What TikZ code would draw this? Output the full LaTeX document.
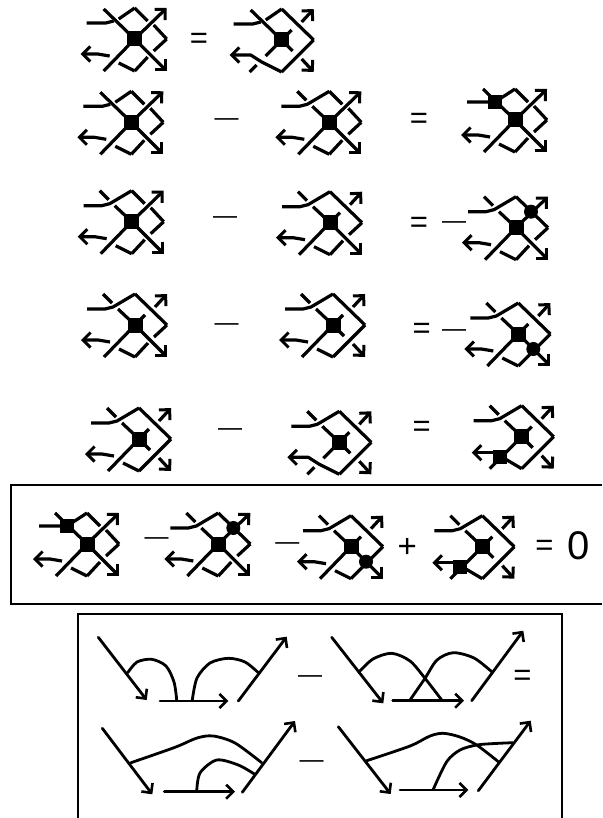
\documentclass[tikz,border=0pt]{standalone}
\usepackage{fontspec}
\setmainfont{Liberation Sans}
\usetikzlibrary{arrows.meta}

\begin{document}
\begin{tikzpicture}[
    x=1pt, y=-1pt,
    strand/.style={line width=3.2pt, line join=round},
    arrow/.style={strand, -{Straight Barb[length=7.5pt, width=15pt, line width=3pt]}},
    frame/.style={line width=1.2pt},
    curve/.style={line width=2.8pt, line cap=round, line join=round},
    curvearrow/.style={curve, -{Straight Barb[length=7pt, width=14pt, line width=2.6pt]}},
    sign/.style={inner sep=0pt, font=\fontsize{31}{31}\selectfont},
    bar/.style={inner sep=0pt, font=\fontsize{24}{24}\selectfont},
    zero/.style={inner sep=0pt, font=\fontsize{40}{40}\selectfont},
    % arguments: upper left, upper right, lower right, lower left crossing
    % 0 = diagonal on top, 1 = other strand on top, 2 = vertex
    pics/knot/.style n args={4}{code={
        \fill (-7.5,-7.5) rectangle (7.5,7.5);
        \ifcase#1
            \draw[strand] (-31,-30) -- (0,0);
            \draw[strand] (-48,-16) -- (-29,-16) -- (-21,-18);
            \draw[strand] (-16,-20) -- (0,-31);
        \or
            \draw[strand] (-32,-31) -- (-23,-22);
            \draw[strand] (-17,-16) -- (0,0);
            \draw[strand] (-48,-16) -- (-30,-16) -- (-22,-18) -- (0,-31);
        \or
            \draw[strand] (-32,-31) -- (0,0);
            \draw[strand] (-48,-18) -- (-20,-18) -- (0,-31);
            \fill (-27,-25) rectangle (-13,-11);
        \fi
        \ifcase#2
            \draw[arrow] (0,0) -- (32,-31);
            \draw[strand] (0,-31) -- (13,-18);
            \draw[strand] (19,-14) -- (32,0);
        \or
            \draw[strand] (0,0) -- (10,-10);
            \draw[arrow] (20,-18) -- (32,-31);
            \draw[strand] (0,-31) -- (32,0);
        \or
            \draw[arrow] (0,0) -- (32,-31);
            \draw[strand] (0,-31) -- (32,0);
            \fill (15,-16) circle (7);
        \fi
        \ifcase#3
            \draw[arrow] (0,0) -- (32,32);
            \draw[strand] (32,0) -- (19,12);
            \draw[strand] (13,18) -- (0,32);
        \or
            \draw[strand] (0,0) -- (11,11);
            \draw[arrow] (20,19) -- (32,32);
            \draw[strand] (32,0) -- (0,32);
        \or
            \draw[arrow] (0,0) -- (32,32);
            \draw[strand] (32,0) -- (0,32);
            \fill (15,15) circle (7);
        \fi
        \ifcase#4
            \draw[strand] (0,0) -- (-31,32);
            \draw[strand] (0,32) -- (-16,24);
            \draw[arrow] (-25,17) -- (-37,15) -- (-54,15);
        \or
            \draw[strand] (0,0) -- (-16,16);
            \draw[strand] (-25,25) -- (-32,32);
            \draw[arrow] (0,32) -- (-20,22) -- (-31,15) -- (-52,15);
        \or
            \draw[strand] (0,0) -- (-32,32);
            \draw[strand] (0,32) -- (-22,19);
            \draw[arrow] (-22,16) -- (-50,16);
            \fill (-29,13) rectangle (-15,27);
        \fi
    }}
]
\useasboundingbox (0,0) rectangle (602,818);

% First row
\pic at (134.7,39) {knot={0}{0}{0}{0}};
\node[sign] (eq1) at (199,41) {=};
\pic at (281.7,40) {knot={0}{1}{1}{1}};

% Second row
\pic at (131.3,122.3) {knot={0}{0}{0}{0}};
\node[bar] (minus2) at (226.7,122) {—};
\pic at (329.3,122.3) {knot={1}{0}{0}{0}};
\node[sign] (eq2) at (419,120.7) {=};
\pic at (515,120) {knot={2}{0}{0}{0}};

% Third row
\pic at (131.7,221.7) {knot={1}{0}{0}{0}};
\node[bar] (minus3) at (225,220) {—};
\pic at (330,222.7) {knot={1}{1}{0}{0}};
\node[sign] (eq3) at (419,225) {=};
\node[bar] (sign3) at (454,225) {—};
\pic at (516,227.7) {knot={1}{2}{0}{0}};

% Fourth row
\pic at (135,325) {knot={1}{1}{0}{0}};
\node[bar] (minus4) at (226.7,326.7) {—};
\pic at (333,325) {knot={1}{1}{1}{0}};
\node[sign] (eq4) at (421.7,330.7) {=};
\node[bar] (sign4) at (454,333) {—};
\pic at (518.3,334) {knot={1}{1}{2}{0}};

% Fifth row
\pic at (139,439) {knot={1}{1}{1}{0}};
\node[bar] (minus5) at (230,431.7) {—};
\pic at (339.3,442.3) {knot={1}{1}{1}{1}};
\node[sign] (eq5) at (421.7,429) {=};
\pic at (521.7,436.7) {knot={1}{1}{1}{2}};

% Sum in the middle box
\draw[frame] (602,485) -- (11,485) -- (11,604) -- (602,604);
\pic at (87,544) {knot={2}{0}{0}{0}};
\node[bar] (minus6) at (156.7,541) {—};
\pic at (218.3,544) {knot={1}{2}{0}{0}};
\node[bar] (minus7) at (287.3,545.7) {—};
\pic at (351,546.7) {knot={1}{1}{2}{0}};
\node[sign, font=\fontsize{33}{33}\selectfont] (plus) at (407.3,548.3) {+};
\pic at (482.3,546.7) {knot={1}{1}{1}{2}};
\node[sign] (eq6) at (544.3,548.3) {=};
\node[zero] (nought) at (579,545.7) {0};

% Lower box
\draw[frame] (78,818) -- (78,614) -- (562,614) -- (562,818);

% Upper left chord diagram
\draw[curvearrow] (98.3,637.3) -- (146.7,700);
\draw[curvearrow] (160,701) -- (228.3,701);
\draw[curvearrow] (238.3,701) -- (286.7,636.7);
\draw[curve] plot[smooth] coordinates {(127.7,672.7) (137,662) (151.7,659.3) (166,666) (174,682) (176.7,700)};
\draw[curve] plot[smooth] coordinates {(192.3,700) (197,678) (210,663) (228.3,658.3) (245,662) (258.3,672.7)};
\node[bar] (minus8) at (310,678.7) {—};

% Upper right chord diagram
\draw[curvearrow] (331.7,637.3) -- (383.3,703.3);
\draw[curvearrow] (392.7,700.7) -- (464,700.7);
\draw[curvearrow] (471.7,700.7) -- (523.3,630.7);
\draw[curve] plot[smooth] coordinates {(359.3,671.7) (373,659) (391.7,653.3) (410,661) (425,678.3) (441.7,700)};
\draw[curve] plot[smooth] coordinates {(410,700) (425,678.3) (437,660) (453.3,652.7) (474,658) (491.7,671.7)};
\node[sign] (eq7) at (522.3,678.3) {=};

% Lower left chord diagram
\draw[curvearrow] (102.3,728.3) -- (152.3,794.3);
\draw[curvearrow] (164.3,791.7) -- (235,791.7);
\draw[curvearrow] (242.3,792.3) -- (295,721);
\draw[curve] plot[smooth] coordinates {(131,762.7) (175,747.3) (197,738) (213.3,736) (235,743) (261.7,762.7)};
\draw[curve] plot[smooth] coordinates {(196.7,791.7) (200,773) (216.7,760) (238.3,765) (254.3,774)};
\node[bar] (minus9) at (311.7,764) {—};

% Lower right chord diagram
\draw[curvearrow] (338.3,726.7) -- (390.7,794);
\draw[curvearrow] (400,790) -- (468.3,790);
\draw[curvearrow] (478.3,790.7) -- (530.7,720.7);
\draw[curve] plot[smooth] coordinates {(366.7,760.7) (410,746) (430,736) (443.3,733.3) (460,737) (476.7,745) (498.3,761.7)};
\draw[curve] plot[smooth] coordinates {(433.3,789.3) (446.7,761.7) (460,750) (476.7,745) (495,743.5) (512.7,742.7)};

\end{tikzpicture}
\end{document}
